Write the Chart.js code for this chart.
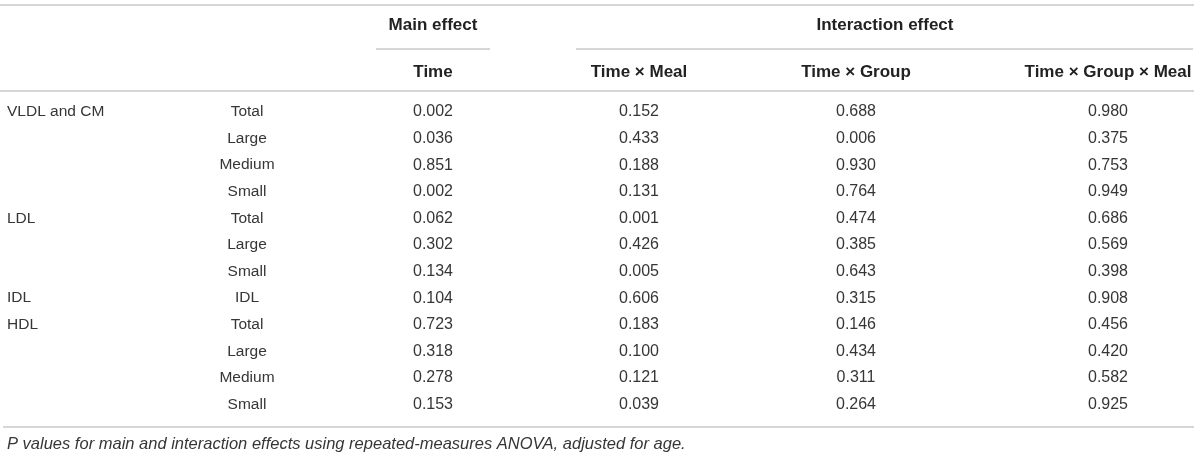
<!DOCTYPE html>
<html>
<head>
<meta charset="utf-8">
<script src="https://cdn.jsdelivr.net/npm/chart.js@4/dist/chart.umd.min.js"></script>
<style>
  html, body { margin: 0; padding: 0; background: #fff; }
  #wrap { width: 1200px; height: 456px; }
</style>
</head>
<body>
<div id="wrap"><canvas id="table-canvas" width="1200" height="456"></canvas></div>
<script>
// table data
const groups = ['VLDL and CM', '', '', '', 'LDL', '', '', 'IDL', 'HDL', '', '', ''];
const subgroups = ['Total', 'Large', 'Medium', 'Small', 'Total', 'Large', 'Small', 'IDL', 'Total', 'Large', 'Medium', 'Small'];
const pTime = [0.002, 0.036, 0.851, 0.002, 0.062, 0.302, 0.134, 0.104, 0.723, 0.318, 0.278, 0.153];
const pTimeMeal = [0.152, 0.433, 0.188, 0.131, 0.001, 0.426, 0.005, 0.606, 0.183, 0.100, 0.121, 0.039];
const pTimeGroup = [0.688, 0.006, 0.930, 0.764, 0.474, 0.385, 0.643, 0.315, 0.146, 0.434, 0.311, 0.264];
const pTimeGroupMeal = [0.980, 0.375, 0.753, 0.949, 0.686, 0.569, 0.398, 0.908, 0.456, 0.420, 0.582, 0.925];
const columnHeads = ['Time', 'Time \u00d7 Meal', 'Time \u00d7 Group', 'Time \u00d7 Group \u00d7 Meal'];
const spanHeads = ['Main effect', 'Interaction effect'];
const caption = 'P values for main and interaction effects using repeated-measures ANOVA, adjusted for age.';

// layout (x in table units, y in row units)
const colX = [433, 639, 856, 1108];
const groupX = 7;
const subgroupX = 247;
const spans = [[376, 490], [576, 1193]];
const spanHeadX = [433, 885];

const FONT = '"Liberation Sans", Arial, sans-serif';
const TEXT = '#363636';
const RULE = '#d6d6d6';

const tablePlugin = {
  id: 'table',
  afterDatasetsDraw(chart) {
    const { ctx, scales: { x, y } } = chart;
    ctx.save();
    ctx.textBaseline = 'middle';

    const rule = (x1, x2, v) => {
      const py = Math.round(y.getPixelForValue(v));
      ctx.strokeStyle = RULE;
      ctx.lineWidth = 2;
      ctx.beginPath();
      ctx.moveTo(x.getPixelForValue(x1), py);
      ctx.lineTo(x.getPixelForValue(x2), py);
      ctx.stroke();
    };

    rule(0, 1194, -4.02);
    rule(spans[0][0], spans[0][1], -2.36);
    rule(spans[1][0], spans[1][1], -2.36);
    rule(0, 1194, -0.8);
    rule(3, 1194, 11.83);

    // headers
    ctx.fillStyle = '#222';
    ctx.font = 'bold 17px ' + FONT;
    ctx.textAlign = 'center';
    spanHeads.forEach((h, i) => ctx.fillText(h, x.getPixelForValue(spanHeadX[i]), y.getPixelForValue(-3.27)));
    columnHeads.forEach((h, i) => ctx.fillText(h, x.getPixelForValue(colX[i]), y.getPixelForValue(-1.5)));

    // row labels
    ctx.fillStyle = TEXT;
    ctx.font = '15.5px ' + FONT;
    groups.forEach((g, i) => {
      ctx.textAlign = 'left';
      ctx.fillText(g, x.getPixelForValue(groupX), y.getPixelForValue(i));
      ctx.textAlign = 'center';
      ctx.fillText(subgroups[i], x.getPixelForValue(subgroupX), y.getPixelForValue(i));
    });

    // cell values from dataset points
    ctx.font = '16px ' + FONT;
    ctx.textAlign = 'center';
    chart.data.datasets.forEach((ds, k) => {
      chart.getDatasetMeta(k).data.forEach((pt, i) => {
        ctx.fillText(ds.values[i].toFixed(3), pt.x, pt.y);
      });
    });

    // caption
    ctx.font = 'italic 16.5px ' + FONT;
    ctx.textAlign = 'left';
    ctx.fillText(caption, x.getPixelForValue(groupX), y.getPixelForValue(12.5));
    ctx.restore();
  }
};

function makeDataset(label, values, k) {
  return {
    label,
    values,
    data: values.map((v, i) => ({ x: colX[k], y: i })),
    pointRadius: 0,
    pointHoverRadius: 0,
  };
}

function createTable() {
  const canvas = document.getElementById('table-canvas');
  const rowPx = 26.6;
  const yMin = -112 / rowPx;

  new Chart(canvas, {
    type: 'scatter',
    data: {
      datasets: [
        makeDataset(columnHeads[0], pTime, 0),
        makeDataset(columnHeads[1], pTimeMeal, 1),
        makeDataset(columnHeads[2], pTimeGroup, 2),
        makeDataset(columnHeads[3], pTimeGroupMeal, 3),
      ],
    },
    options: {
      responsive: false,
      animation: false,
      layout: { padding: 0 },
      plugins: { legend: { display: false }, tooltip: { enabled: false } },
      scales: {
        x: { type: 'linear', display: false, min: 0, max: 1200 },
        y: { type: 'linear', display: false, reverse: true, min: yMin, max: yMin + 456 / rowPx },
      },
    },
    plugins: [tablePlugin],
  });
}

document.addEventListener('DOMContentLoaded', createTable);
</script>
</body>
</html>
